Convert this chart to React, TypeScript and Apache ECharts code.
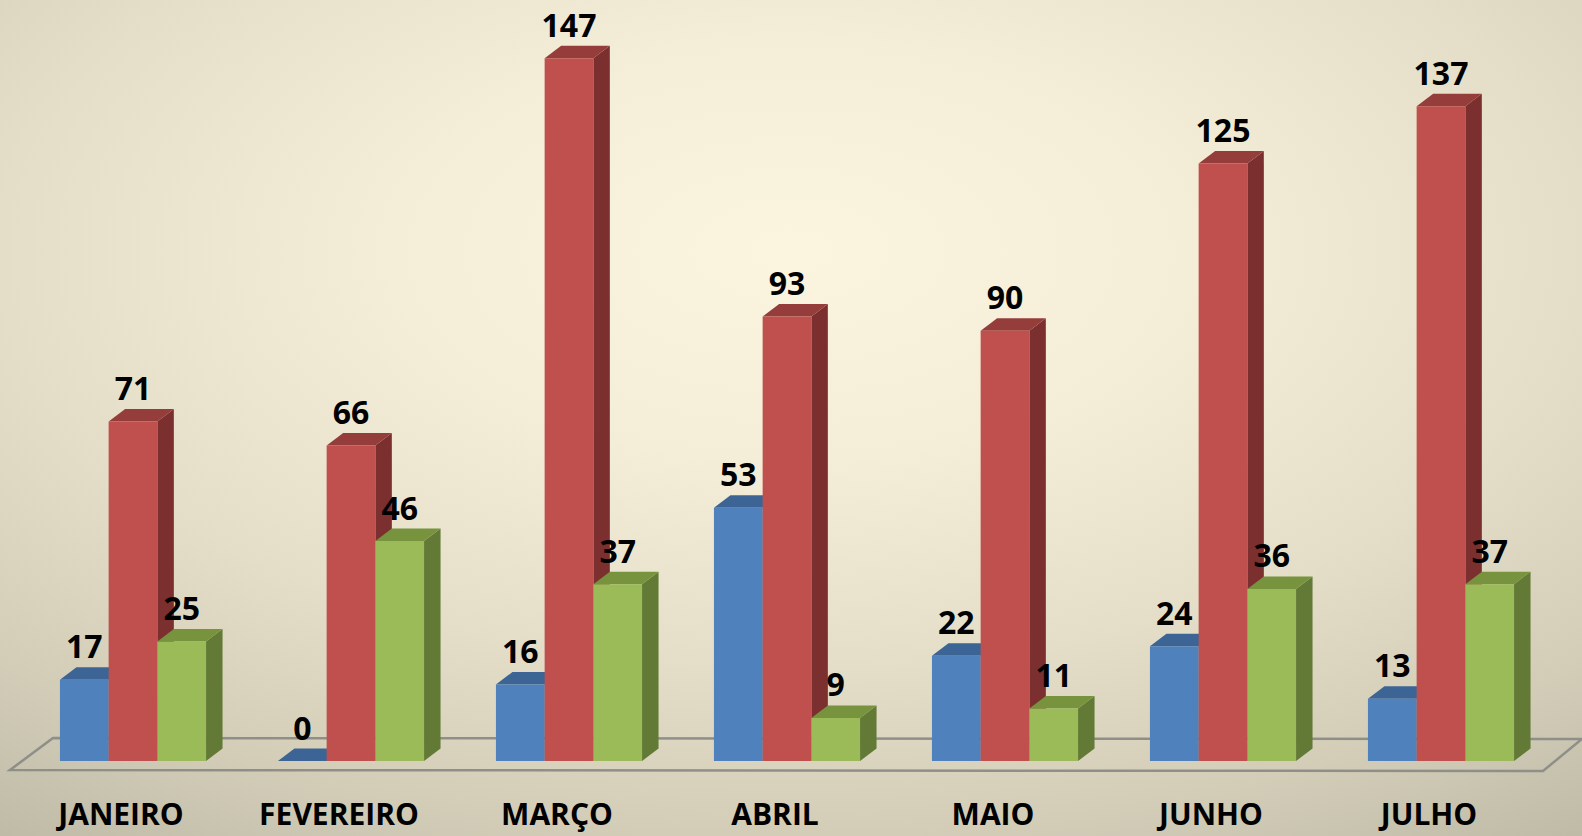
import React, { useEffect, useRef } from "react";
import * as echarts from "echarts";

const categories = ["JANEIRO", "FEVEREIRO", "MARÇO", "ABRIL", "MAIO", "JUNHO", "JULHO"];
const seriesA = [17, 0, 16, 53, 22, 24, 13];
const seriesB = [71, 66, 147, 93, 90, 125, 137];
const seriesC = [25, 46, 37, 9, 11, 36, 37];

const palettes = [
  { front: "#4f81bd", top: "#3c6595", side: "#2f5079" },
  { front: "#c0504d", top: "#953d3b", side: "#7b2f2e" },
  { front: "#9bbb59", top: "#77933d", side: "#627a35" },
];

const BAR_FRAC = 0.2234;
const GROUP_SHIFT = 0.055;
const DX = 16.5;
const DY = 12.5;

function makeSeries(values: number[], idx: number) {
  const pal = palettes[idx];
  return {
    type: "custom",
    data: values.map((v, i) => [i, v]),
    encode: { x: 0, y: 1 },
    renderItem: (params: any, api: any) => {
      const cat = api.value(0);
      const v = api.value(1);
      const top = api.coord([cat, v]);
      const base = api.coord([cat, 0]);
      const band = api.size([1, 0])[0];
      const w = band * BAR_FRAC;
      const cx = top[0] + band * GROUP_SHIFT + (idx - 1) * w;
      const x0 = cx - w / 2;
      const x1 = cx + w / 2;
      const yT = top[1];
      const yB = base[1];
      return {
        type: "group",
        children: [
          {
            type: "polygon",
            shape: { points: [[x1, yB], [x1 + DX, yB - DY], [x1 + DX, yT - DY], [x1, yT]] },
            style: { fill: pal.side },
          },
          {
            type: "polygon",
            shape: { points: [[x0, yT], [x1, yT], [x1 + DX, yT - DY], [x0 + DX, yT - DY]] },
            style: { fill: pal.top },
          },
          {
            type: "rect",
            shape: { x: x0, y: yT, width: w, height: Math.max(0, yB - yT) },
            style: { fill: pal.front },
          },
          {
            type: "text",
            z2: 100,
            style: {
              text: String(v),
              x: cx,
              y: yT - 34,
              align: "center",
              verticalAlign: "middle",
              fill: "#000",
              font: "bold 32px 'Open Sans'",
            },
          },
        ],
      };
    },
  };
}

export default function App() {
  const ref = useRef<HTMLDivElement>(null);
  useEffect(() => {
    if (!ref.current) return;
    const chart = echarts.init(ref.current, undefined, { renderer: "svg" });
    chart.setOption({
      animation: false,
      graphic: [
        {
          type: "rect",
          z: -100,
          silent: true,
          shape: { x: 0, y: 0, width: 1582, height: 836 },
          style: {
            fill: new echarts.graphic.RadialGradient(0.5, 0.3, 1.0, [
              { offset: 0, color: "#fbf5e0" },
              { offset: 0.25, color: "#f4eed8" },
              { offset: 0.5, color: "#e4dec8" },
              { offset: 0.7, color: "#d3cdb8" },
              { offset: 0.85, color: "#c0bca8" },
              { offset: 1, color: "#a8a696" },
            ]),
          },
        },
        {
          type: "polygon",
          z: -50,
          silent: true,
          shape: { points: [[53, 738], [1582, 739], [1543, 771], [10, 770]] },
          style: { fill: "rgba(0,0,0,0)", stroke: "#8f8f8a", lineWidth: 2.5 },
        },
      ],
      grid: { left: 12, right: 44, top: 44, bottom: 75, containLabel: false },
      xAxis: {
        type: "category",
        data: categories,
        axisLine: { show: false },
        axisTick: { show: false },
        axisLabel: {
          interval: 0,
          margin: 52,
          verticalAlign: "middle",
          lineHeight: 28,
          color: "#000",
          fontSize: 30,
          fontWeight: "bold",
          fontFamily: "'Open Sans'",
        },
      },
      yAxis: { type: "value", min: 0, max: 150, show: false, splitLine: { show: false } },
      series: [makeSeries(seriesA, 0), makeSeries(seriesB, 1), makeSeries(seriesC, 2)],
    });
    return () => chart.dispose();
  }, []);
  return <div ref={ref} style={{ position: "absolute", left: 0, top: 0, width: 1582, height: 836 }} />;
}
